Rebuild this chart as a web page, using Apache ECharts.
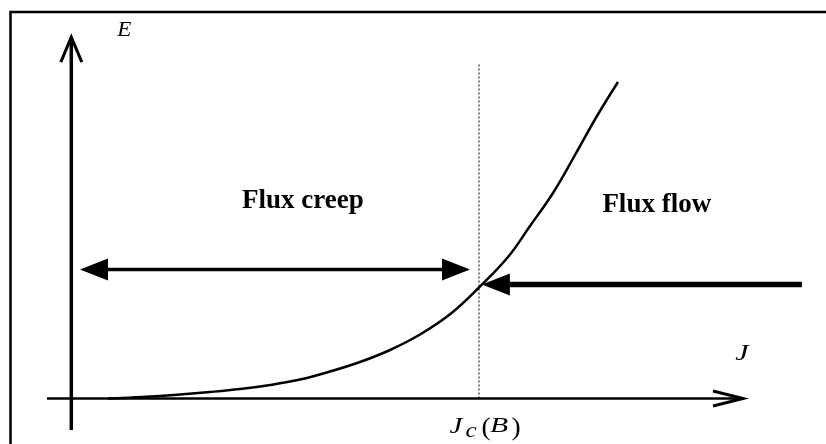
<!DOCTYPE html>
<html><head><meta charset="utf-8">
<script src="https://cdn.jsdelivr.net/npm/echarts@6/dist/echarts.min.js"></script>
<style>html,body{margin:0;padding:0;background:#fff}#c{width:826px;height:444px}</style>
</head><body><div id="c"></div>
<script>
// E(J) characteristic, J in units of Jc(B), E in arbitrary units
const curveJ = [0.0900, 0.1268, 0.1930, 0.2666, 0.3402, 0.4138, 0.4874, 0.5610, 0.6345, 0.7081, 0.7817, 0.8553, 0.9313, 1.0000, 1.0711, 1.1251, 1.1815, 1.2355, 1.2894, 1.3409];
const curveE = [0, 0.0045, 0.0181, 0.0362, 0.0588, 0.0860, 0.1222, 0.1719, 0.2443, 0.3303, 0.4389, 0.5792, 0.7692, 1.0045, 1.2805, 1.5611, 1.8597, 2.2036, 2.5566, 2.8643];
const jc = 1;
const jcLineTopE = 3.036;
const eAxisSpan = [-0.285, 3.271];   // E axis drawn along J = 0
const jAxisSpan = [-0.0596, 1.6475]; // J axis drawn along E = 0
const creepSpan = [0.0213, 0.978];
const creepE = 1.167;
const flowSpan = [1.792, 1.007];
const flowE = 1.032;
const regionLabels = ['Flux creep', 'Flux flow'];
const regionLabelJ = [0.568, 1.436];
const regionLabelE = [1.787, 1.751];
const axisNames = ['E', 'J'];
const axisNameJ = [0.130, 1.645];
const axisNameE = [3.330, 0.407];

const chart = echarts.init(document.getElementById('c'), null, {renderer: 'canvas'});
const black = '#000';
const serif = '"Liberation Serif", "Times New Roman", serif';

function renderItem(params, api) {
  const c = (j, e) => api.coord([j, e]);
  const ch = [];
  const line = (p, q, w, extra) => ch.push({type: 'line', shape: {x1: p[0], y1: p[1], x2: q[0], y2: q[1]},
    style: Object.assign({stroke: black, lineWidth: w}, extra || {})});
  const tri = (tip, dir, len, half) => ch.push({type: 'polygon', shape: {points: [
    [tip[0], tip[1]], [tip[0] - dir * len, tip[1] - half], [tip[0] - dir * len, tip[1] + half]]},
    style: {fill: black}});
  const txt = (s, p, font, dx, dy, sx) => ch.push({type: 'text', x: p[0] + (dx || 0), y: p[1] + (dy || 0),
    scaleX: sx || 1,
    style: {text: s, font: font, fill: black, align: 'center', verticalAlign: 'middle'}});

  // dotted Jc line
  line(c(jc, 0), c(jc, jcLineTopE), 1.2, {stroke: '#222', lineDash: [2, 2]});

  // E axis
  const ea = c(0, eAxisSpan[0]), eb = c(0, eAxisSpan[1]);
  line(ea, eb, 3.5);
  ch.push({type: 'polyline', shape: {points: [[eb[0] - 10.5, eb[1] + 25], [eb[0], eb[1]], [eb[0] + 10.5, eb[1] + 25]]},
    style: {stroke: black, lineWidth: 3, fill: null}});

  // J axis
  const ja = c(jAxisSpan[0], 0), jb = c(jAxisSpan[1], 0);
  line(ja, jb, 2.5);
  ch.push({type: 'polyline', shape: {points: [[jb[0] - 30, jb[1] - 7.5], [jb[0], jb[1]], [jb[0] - 30, jb[1] + 7.5]]},
    style: {stroke: black, lineWidth: 3, fill: null}});

  // Flux creep double arrow
  const ca = c(creepSpan[0], creepE), cb = c(creepSpan[1], creepE);
  line([ca[0] + 27, ca[1]], [cb[0] - 27, cb[1]], 3.5);
  tri(ca, -1, 28, 11);
  tri(cb, 1, 28, 11);

  // Flux flow arrow
  const fa = c(flowSpan[0], flowE), fb = c(flowSpan[1], flowE);
  line(fa, [fb[0] + 27, fb[1]], 5.5);
  tri(fb, -1, 28, 11);

  // region labels
  for (let i = 0; i < regionLabels.length; i++) {
    txt(regionLabels[i], c(regionLabelJ[i], regionLabelE[i]), 'bold 27px ' + serif);
  }
  // axis names
  txt(axisNames[0], c(axisNameJ[0], axisNameE[0]), 'italic 21px ' + serif, 0, 0, 1.1);
  txt(axisNames[1], c(axisNameJ[1], axisNameE[1]), 'italic 23px ' + serif, 0, 0, 1.3);
  // Jc(B) label under the Jc position
  const jp = c(jc, 0);
  txt('J', jp, 'italic 23px ' + serif, -23, 28, 1.25);
  txt('c', jp, 'italic 21px ' + serif, -8, 33, 1.2);
  txt('(', jp, '25px ' + serif, 7, 30, 1.1);
  txt('B', jp, 'italic 22px ' + serif, 20, 28, 1.35);
  txt(')', jp, '25px ' + serif, 37, 30, 1.1);

  return {type: 'group', children: ch};
}

chart.setOption({
  animation: false,
  backgroundColor: '#fff',
  grid: {left: 30.53, right: 20.84, top: 22.8, bottom: 1.3, containLabel: false},
  xAxis: {type: 'value', min: -0.1, max: 1.8, show: false},
  yAxis: {type: 'value', min: -0.4, max: 3.4, show: false},
  graphic: [{type: 'rect', shape: {x: 10.5, y: 12, width: 1000, height: 1000},
    style: {fill: 'none', stroke: black, lineWidth: 2.5}, z: 100}],
  series: [
    {type: 'custom', renderItem: renderItem, data: [[0, 0]], clip: false, silent: true, z: 2},
    {type: 'line', data: curveJ.map((j, i) => [j, curveE[i]]), showSymbol: false, smooth: 0.4,
      lineStyle: {color: black, width: 2.5}, z: 3, silent: true}
  ]
});
</script>
</body></html>
